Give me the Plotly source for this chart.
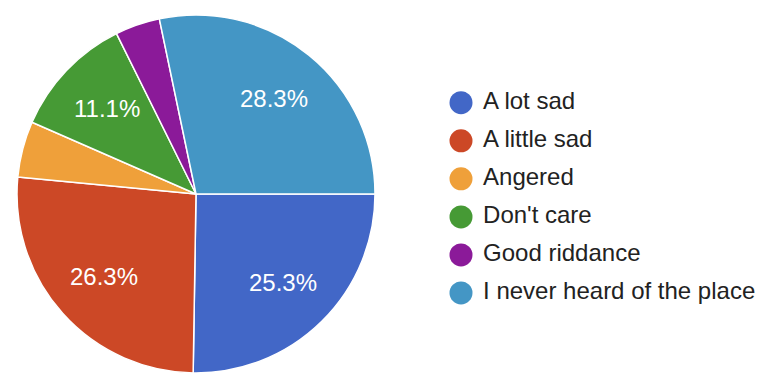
import math
import plotly.graph_objects as go

categories = ["A lot sad", "A little sad", "Angered", "Don't care", "Good riddance", "I never heard of the place"]
counts = [25, 26, 5, 11, 4, 28]
colors = ["#4267C7", "#CC4826", "#EFA03A", "#469A35", "#8B1A99", "#4496C5"]

total = sum(counts)
FONT = "Liberation Sans, Arial, sans-serif"
W, H = 782, 390
pie_x = [17 / W, 375 / W]
pie_y = [17 / H, 375 / H]

fig = go.Figure()
fig.add_trace(go.Pie(
    labels=categories,
    values=counts,
    textinfo="none",
    marker=dict(colors=colors, line=dict(color="white", width=1.5)),
    sort=False,
    direction="clockwise",
    rotation=90,
    showlegend=False,
    hoverinfo="label+percent",
    domain=dict(x=pie_x, y=pie_y),
))

# percentage labels, Google-charts style: placed on the slice bisector at 0.69 r
cx = (pie_x[0] + pie_x[1]) / 2 * W
cy = (pie_y[0] + pie_y[1]) / 2 * H
r = (pie_x[1] - pie_x[0]) * W / 2
cum = 0.0
for c in counts:
    frac = c / total
    mid = (cum + frac / 2) * 2 * math.pi  # clockwise from 3 o'clock
    cum += frac
    if frac < 0.06:
        continue
    px = cx + 0.69 * r * math.cos(mid)
    py = cy - 0.69 * r * math.sin(mid)
    fig.add_annotation(
        x=px / W, y=py / H, xref="paper", yref="paper",
        text=f"{frac * 100:.1f}%", showarrow=False,
        font=dict(family=FONT, size=24, color="white"),
        xanchor="center", yanchor="middle",
    )

# legend drawn as a categorical scatter
fig.add_trace(go.Scatter(
    x=[0] * len(categories),
    y=categories,
    mode="markers+text",
    marker=dict(size=23, color=colors, symbol="circle"),
    text=["\u00a0" + c for c in categories],
    textposition="middle right",
    textfont=dict(family=FONT, size=24, color="#222222"),
    showlegend=False,
    hoverinfo="skip",
))

fig.update_layout(
    width=W,
    height=H,
    margin=dict(l=0, r=0, t=0, b=0),
    paper_bgcolor="white",
    plot_bgcolor="white",
    xaxis=dict(domain=[0.5, 1.0], range=[-70 / 391, 321 / 391], visible=False, fixedrange=True),
    yaxis=dict(type="category", categoryorder="array", categoryarray=categories,
               range=[7.55, -2.70], visible=False, fixedrange=True),
)

fig.write_html("out.html")
